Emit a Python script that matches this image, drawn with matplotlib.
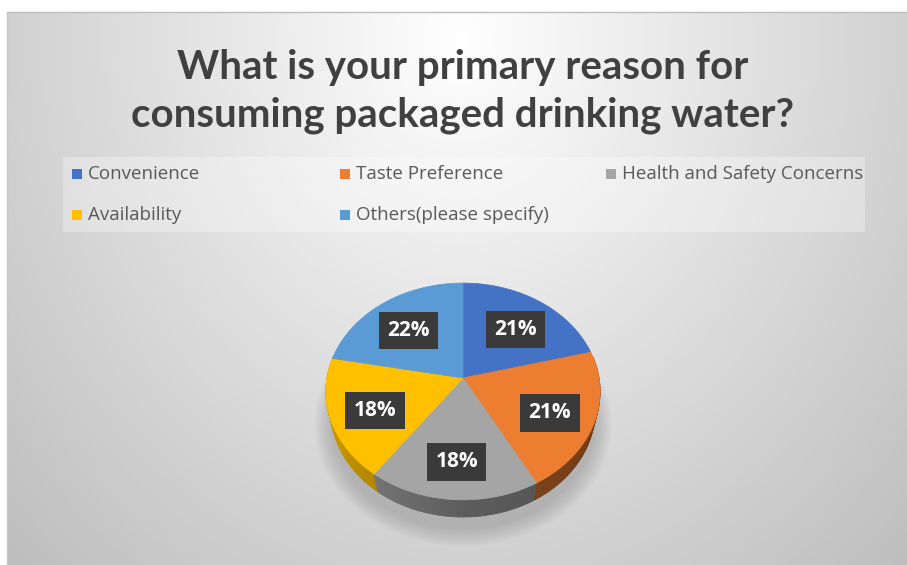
import numpy as np
import matplotlib.pyplot as plt
from matplotlib.patches import Polygon, Rectangle
from matplotlib.collections import PolyCollection

categories = ['Convenience', 'Taste Preference', 'Health and Safety Concerns',
              'Availability', 'Others(please specify)']
shares = [21, 21, 18, 18, 22]
colors = ['#4472C4', '#ED7D31', '#A5A5A5', '#FFC000', '#5B9BD5']
title_lines = ['What is your primary reason for', 'consuming packaged drinking water?']

W, H = 907, 565
fig = plt.figure(figsize=(W / 100, H / 100), dpi=100)
ax = fig.add_axes([0, 0, 1, 1])
ax.axis('off')

# chart area background: soft radial gradient, white at the top centre
x0, y0 = 7, 12
yy, xx = np.mgrid[y0:H, x0:W]
d = np.sqrt(((xx - 460) / 450.0) ** 2 + ((yy - 40) / 520.0) ** 2)
g = np.clip(255 - 46 * d, 0, 255) / 255.0
ax.imshow(np.dstack([g, g, g]), extent=(x0, W, H, y0), interpolation='bilinear')
ax.plot([x0, W], [y0, y0], color='#bdbdbd', lw=1)
ax.plot([x0, x0], [y0, H], color='#c8c8c8', lw=1)
ax.set_aspect('auto')
ax.set_xlim(0, W)
ax.set_ylim(H, 0)

# title
for i, line in enumerate(title_lines):
    ax.text(463, 79 + 47 * i, line, ha='center', va='baseline', fontsize=29,
            fontweight='bold', family='Lato', color='#404040')

# legend (Excel style, fixed column grid)
ax.add_patch(Rectangle((63, 157), 802, 75, facecolor='white', alpha=0.3, lw=0))
leg_x = [77, 345, 611, 77, 345]
leg_y = [174, 174, 174, 215, 215]
for name, c, lx, ly in zip(categories, colors, leg_x, leg_y):
    ax.scatter([lx], [ly], marker='s', s=50, color=c, lw=0)
    ax.text(lx + 11, ly, name, va='center', ha='left', fontsize=13.5,
            family='Open Sans', color='#595959')

# 3D pie through a simple perspective projection
cx, cy = 463, 378
k, D, elev = 136.0, 4.99, np.radians(51.7)
thick = 0.24


def project(u, v, h=0.0):
    Z = D + v * np.cos(elev) - h * np.sin(elev)
    Y = v * np.sin(elev) + h * np.cos(elev)
    return cx + k * D * u / Z, cy - k * D * Y / Z


def shade(c, f):
    rgb = np.array([int(c[i:i + 2], 16) for i in (1, 3, 5)]) / 255.0
    return tuple(np.clip(rgb * f, 0, 1))


# soft shadow below the pie
for s in np.linspace(1.12, 1.0, 10):
    th = np.linspace(0, 2 * np.pi, 200)
    px, py = project(s * np.sin(th), s * np.cos(th) - 0.05, -thick - 0.02)
    ax.fill(px, py + 4, color='#6e6e6e', alpha=0.035, lw=0)

total = float(sum(shares))
bounds = np.concatenate([[0], np.cumsum(shares)]) / total * 2 * np.pi

quads, qcols, qkey = [], [], []
for i, c in enumerate(colors):
    th = np.linspace(bounds[i], bounds[i + 1], 60)
    for a, b in zip(th[:-1], th[1:]):
        m = 0.5 * (a + b)
        if np.cos(m) > 0.2:
            continue
        ta = project(np.sin(a), np.cos(a))
        tb = project(np.sin(b), np.cos(b))
        ba = project(np.sin(a), np.cos(a), -thick)
        bb = project(np.sin(b), np.cos(b), -thick)
        quads.append([ta, tb, bb, ba])
        f = 0.56 + 0.24 * max(0.0, -np.sin(m)) - 0.08 * max(0.0, np.sin(m))
        qcols.append(shade(c, f))
        qkey.append(np.cos(m))
order = np.argsort(qkey)[::-1]
ax.add_collection(PolyCollection([quads[j] for j in order],
                                 facecolors=[qcols[j] for j in order],
                                 edgecolors=[qcols[j] for j in order], lw=0.6))

for i, c in enumerate(colors):
    th = np.linspace(bounds[i], bounds[i + 1], 80)
    px, py = project(np.sin(th), np.cos(th))
    pts = [project(0, 0)] + list(zip(px, py))
    ax.add_patch(Polygon(pts, closed=True, facecolor=c, edgecolor=c, lw=0.5))

# data labels
for i, s in enumerate(shares):
    m = 0.5 * (bounds[i] + bounds[i + 1])
    lx, ly = project(0.68 * np.sin(m), 0.68 * np.cos(m), -0.06)
    ax.text(lx, ly, f'{s / total * 100:.0f}%', ha='center', va='center',
            fontsize=15, fontweight='bold', family='Open Sans', color='white',
            bbox=dict(boxstyle='square,pad=0.4', facecolor='#3a3a3a', edgecolor='none'))

fig.savefig('out.png', dpi=100, facecolor='white')
